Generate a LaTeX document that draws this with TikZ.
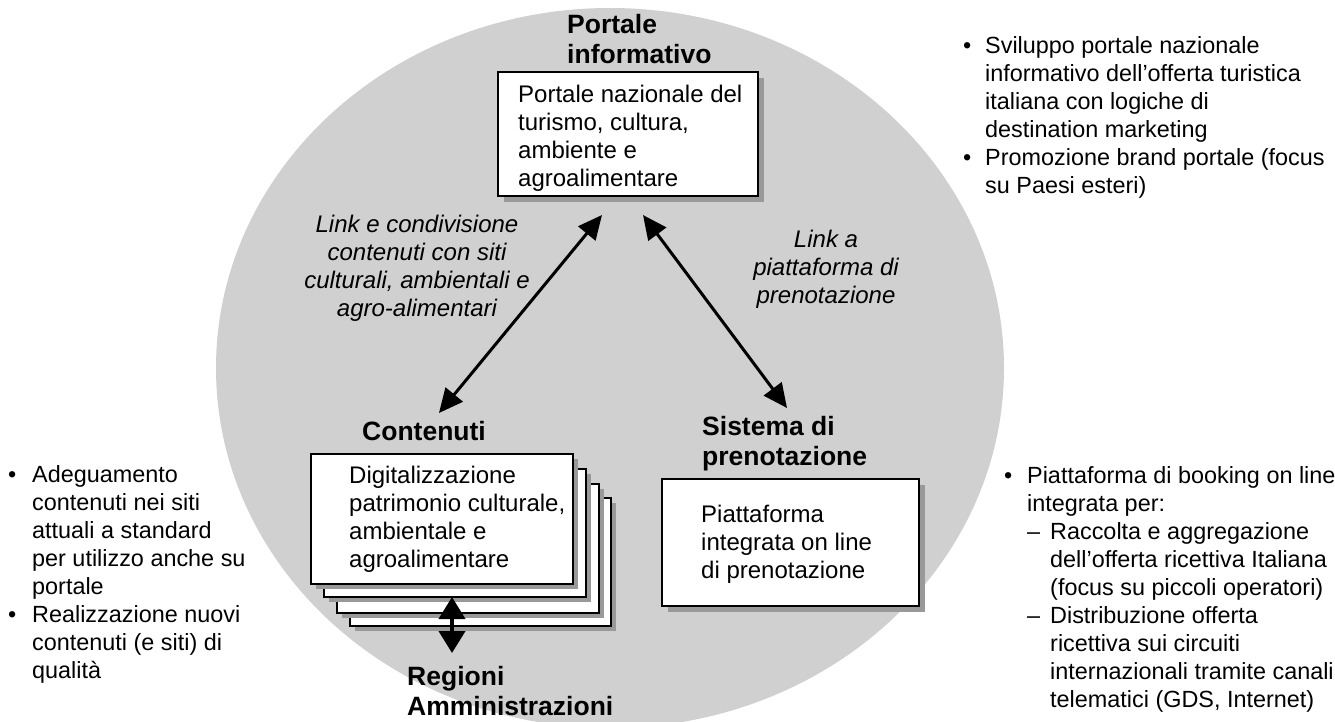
\documentclass[tikz,border=0pt]{standalone}
\usepackage{fontspec}
\setmainfont{Liberation Sans}
\usetikzlibrary{arrows.meta,shadows}
\definecolor{ellgray}{HTML}{D0D0D0}
\definecolor{shgray}{HTML}{999999}
\begin{document}
\begin{tikzpicture}[x=1pt,y=-1pt,
  body/.style={anchor=north west,inner sep=0pt,font=\fontsize{24}{28}\selectfont},
  blist/.style={anchor=north west,inner sep=0pt,font=\fontsize{23.4}{28}\selectfont},
  ttl/.style={anchor=north west,inner sep=0pt,font=\fontsize{26.5}{30}\selectfont\bfseries},
  lbl/.style={anchor=north,inner sep=0pt,font=\fontsize{24}{28}\selectfont\itshape},
  box/.style={draw=black,line width=2pt,fill=white,anchor=north west,inner sep=0pt},
  shad/.style={drop shadow={shadow xshift=#1,shadow yshift=-#1,fill=shgray,opacity=1}},
  dbl/.style={line width=3pt,{Triangle[length=24pt,width=22pt]}-{Triangle[length=24pt,width=22pt]}},
  vdbl/.style={line width=4pt,{Triangle[length=22pt,width=26pt]}-{Triangle[length=22pt,width=26pt]}}]
\useasboundingbox (0,0) rectangle (1335,721);
\fill[ellgray] (610,368) ellipse [x radius=394, y radius=360];

% top box
\node[box,shad=6pt,minimum width=260pt,minimum height=124pt] (topbox) at (497,71) {};
\node[ttl] (toptitle) at (567,12) {\begin{tabular}{@{}l@{}}Portale\\informativo\end{tabular}};
\node[body] (toptext) at (518,82.4) {\begin{tabular}{@{}l@{}}Portale nazionale del\\turismo, cultura,\\ambiente e\\agroalimentare\end{tabular}};

% contenuti stack
\node[box,shad=5pt,minimum width=261pt,minimum height=128pt] (c4) at (349,497) {};
\node[box,shad=5pt,minimum width=262pt,minimum height=129pt] (c3) at (336,483) {};
\node[box,shad=5pt,minimum width=262pt,minimum height=128pt] (c2) at (323,468) {};
\node[box,shad=5pt,minimum width=262pt,minimum height=130pt] (c1) at (310,453) {};
\node[ttl] (ctitle) at (362,419) {\begin{tabular}{@{}l@{}}Contenuti\end{tabular}};
\node[body] (ctext) at (349,463.4) {\begin{tabular}{@{}l@{}}Digitalizzazione\\patrimonio culturale,\\ambientale e\\agroalimentare\end{tabular}};

% sistema box
\node[box,shad=6pt,minimum width=257pt,minimum height=127pt] (sbox) at (661,478) {};
\node[ttl] (stitle) at (702,414) {\begin{tabular}{@{}l@{}}Sistema di\\prenotazione\end{tabular}};
\node[body] (stext) at (701,502.4) {\begin{tabular}{@{}l@{}}Piattaforma\\integrata on line\\di prenotazione\end{tabular}};

% regioni
\node[ttl] (rtitle) at (407,664) {\begin{tabular}{@{}l@{}}Regioni\\Amministrazioni\end{tabular}};

% labels
\node[lbl] (llab) at (417,212.4) {\begin{tabular}{@{}c@{}}Link e condivisione\\contenuti con siti\\culturali, ambientali e\\agro-alimentari\end{tabular}};
\node[lbl] (rlab) at (826,228) {\begin{tabular}{@{}c@{}}Link a\\piattaforma di\\prenotazione\end{tabular}};

% arrows
\coordinate (la) at (602,215);
\coordinate (lb) at (439,413);
\coordinate (ra) at (643,215);
\coordinate (rb) at (787,408);
\coordinate (va) at (452,597);
\coordinate (vb) at (452,653);
\draw[dbl] (la) -- (lb);
\draw[dbl] (ra) -- (rb);
\draw[vdbl] (va) -- (vb);

% bullets
\node[blist] (tr) at (963,33.4) {\begin{tabular}{@{}l@{}l@{}}\makebox[22pt][l]{•}&Sviluppo portale nazionale\\&informativo dell’offerta turistica\\&italiana con logiche di\\&destination marketing\\•&Promozione brand portale (focus\\&su Paesi esteri)\end{tabular}};
\node[blist] (lft) at (8,462.4) {\begin{tabular}{@{}l@{}l@{}}\makebox[24pt][l]{•}&Adeguamento\\&contenuti nei siti\\&attuali a standard\\&per utilizzo anche su\\&portale\\•&Realizzazione nuovi\\&contenuti (e siti) di\\&qualità\end{tabular}};
\node[blist] (br) at (1004,463.4) {\begin{tabular}{@{}l@{}l@{}l@{}}\makebox[23pt][l]{•}&\multicolumn{2}{@{}l@{}}{Piattaforma di booking on line}\\&\multicolumn{2}{@{}l@{}}{integrata per:}\\&\makebox[23pt][l]{–}&Raccolta e aggregazione\\&&dell’offerta ricettiva Italiana\\&&(focus su piccoli operatori)\\&–&Distribuzione offerta\\&&ricettiva sui circuiti\\&&internazionali tramite canali\\&&telematici (GDS, Internet)\end{tabular}};
\end{tikzpicture}
\end{document}
